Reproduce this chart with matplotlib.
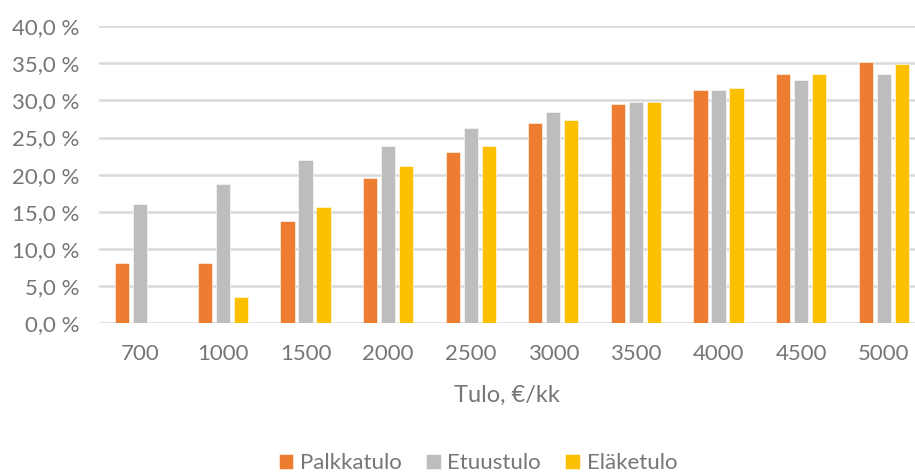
import matplotlib.pyplot as plt
import numpy as np

# data
categories = ['700', '1000', '1500', '2000', '2500', '3000', '3500', '4000', '4500', '5000']
palkkatulo = [8.1, 8.1, 13.7, 19.6, 23.1, 26.9, 29.5, 31.4, 33.6, 35.2]
etuustulo = [16.1, 18.8, 22.0, 23.9, 26.3, 28.5, 29.8, 31.4, 32.8, 33.6]
elaketulo = [0.0, 3.5, 15.6, 21.2, 23.9, 27.4, 29.8, 31.7, 33.6, 34.9]
series_names = ['Palkkatulo', 'Etuustulo', 'Eläketulo']
colors = ['#ED7D31', '#BDBDBB', '#FBC000']
yticks = [0, 5, 10, 15, 20, 25, 30, 35, 40]

plt.rcParams['font.family'] = ['Lato', 'DejaVu Sans']
text_col = '#767676'

W, H = 915, 472
fig = plt.figure(figsize=(W / 100, H / 100), dpi=100)
ax = fig.add_axes([99 / W, (H - 323) / H, (915 - 99) / W, (323 - 26.3) / H])

x = np.arange(len(categories))
w = 0.17
off = 0.218
for i, (vals, name) in enumerate(zip([palkkatulo, etuustulo, elaketulo], series_names)):
    ax.bar(x + (i - 1) * off, vals, width=w, color=colors[i], label=name,
           edgecolor='white', linewidth=0.4, zorder=3)

ax.set_ylim(0, 40)
ax.set_xlim(-0.5, 9.5 - 10 / 82.6)
ax.set_yticks(yticks)
ax.set_yticklabels([f'{v:.1f} %'.replace('.', ',') for v in yticks])
ax.set_xticks(x)
ax.set_xticklabels(categories)
ax.tick_params(axis='both', length=0, labelsize=16, colors=text_col)
ax.tick_params(axis='y', pad=14)
ax.tick_params(axis='x', pad=15)
ax.yaxis.grid(True, color='#D9D9D9', linewidth=1.8, zorder=0)
for s in ax.spines.values():
    s.set_visible(False)
ax.set_xlabel('Tulo, €/kk', fontsize=17, color=text_col, labelpad=15)

leg = fig.legend(loc='center', bbox_to_anchor=(478 / W, 9 / H), ncol=3, frameon=False,
                 fontsize=16, handlelength=0.65, handleheight=0.65, handletextpad=0.3,
                 columnspacing=1.1, labelcolor=text_col)

fig.savefig('out.png', dpi=100)
